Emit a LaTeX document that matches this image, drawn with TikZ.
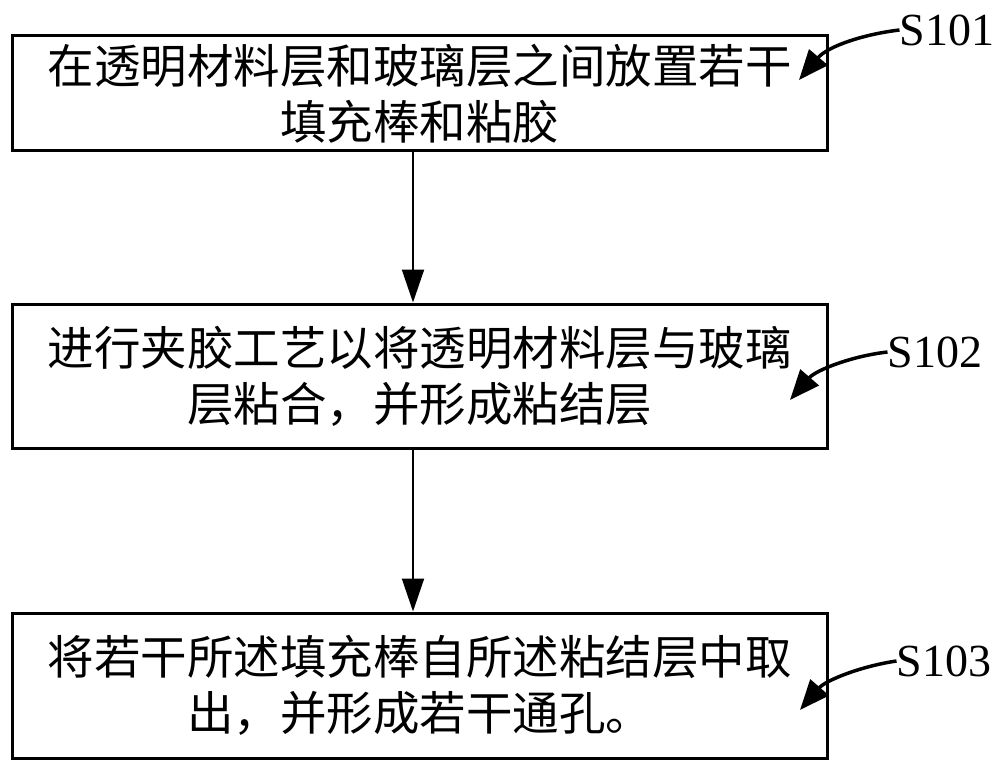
\documentclass[tikz,border=0pt]{standalone}
\usepackage{fontspec}
\setmainfont{Liberation Serif}
\newfontfamily\cjk{Noto Sans CJK SC}
\usetikzlibrary{arrows.meta}
\begin{document}
\begin{tikzpicture}[x=1pt,y=-1pt,
  stepbox/.style={draw,line width=3pt,minimum width=815pt,inner sep=0pt,align=center,
    font=\cjk\fontsize{46.5}{56}\selectfont},
  lab/.style={inner sep=0pt,font=\fontsize{46}{50}\selectfont},
  flow/.style={line width=2pt,-{Triangle[length=33pt,width=22pt]}},
  curv/.style={line width=3.5pt,-{Triangle[length=30pt,width=24pt]}}]
\useasboundingbox[fill=white] (0,0) rectangle (1000,770);
\node[stepbox,minimum height=115pt] (b1) at (419.5,93.5) {在透明材料层和玻璃层之间放置若干\\填充棒和粘胶};
\node[stepbox,minimum height=144pt] (b2) at (419.5,376) {进行夹胶工艺以将透明材料层与玻璃\\层粘合，并形成粘结层};
\node[stepbox,minimum height=145pt] (b3) at (419.5,685.5) {将若干所述填充棒自所述粘结层中取\\出，并形成若干通孔。};
\draw[flow] (b1.south -| 413,0) -- (b2.north -| 413,0);
\draw[flow] (b2.south -| 413,0) -- (b3.north -| 413,0);
\node[lab] (s1) at (947,30) {S101};
\node[lab] (s2) at (935,352) {S102};
\node[lab] (s3) at (944,661) {S103};
\coordinate (t1) at (799,80);
\coordinate (t2) at (790,400);
\coordinate (t3) at (800,710);
\draw[curv] (s1.west) .. controls (865,34) and (828,46) .. (t1);
\draw[curv] (s2.west) .. controls (852,356) and (816,370) .. (t2);
\draw[curv] (s3.west) .. controls (862,666) and (826,680) .. (t3);
\end{tikzpicture}
\end{document}
